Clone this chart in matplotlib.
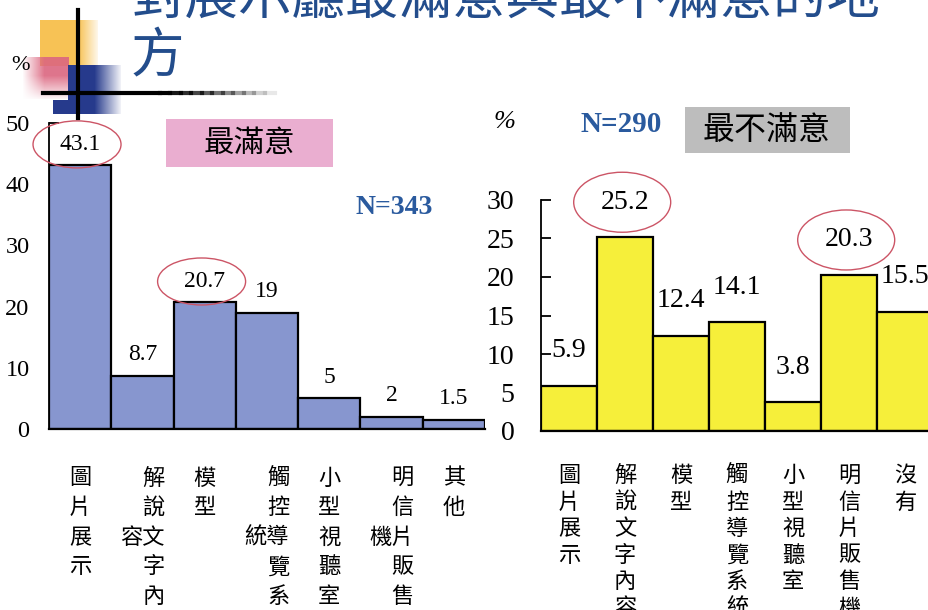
import numpy as np
import matplotlib.pyplot as plt
from matplotlib.patches import Ellipse, Rectangle
from matplotlib.lines import Line2D

plt.rcParams['font.family'] = ['Noto Sans CJK TC', 'DejaVu Sans']

W, H = 929, 610

# data: most satisfied (left) / least satisfied (right)
cats_best = ['圖片展示', '解說文字內容', '模型', '觸控導覽系統', '小型視聽室', '明信片販售機', '其他']
vals_best = [43.1, 8.7, 20.7, 19, 5, 2, 1.5]
circled_best = [0, 2]

cats_worst = ['圖片展示', '解說文字內容', '模型', '觸控導覽系統', '小型視聽室', '明信片販售機', '沒有']
vals_worst = [5.9, 25.2, 12.4, 14.1, 3.8, 20.3, 15.5]
circled_worst = [1, 5]

n_best = 343
n_worst = 290

title_line1 = '對展示廳最滿意與最不滿意的地'
title_line2 = '方'


def fx(px):
    return px / W


def fy(py):
    return 1 - py / H


def vertical(label, wrap):
    chars = list(label)
    if wrap and len(chars) > 5:
        # 6th char goes to the left of the 3rd row
        lines = chars[:5]
        lines[2] = chars[5] + lines[2]
        return '\n'.join(lines)
    return '\n'.join(chars)


def panel(ax, cats, vals, circled, color, ymax, ystep, tick_fs, val_fs,
          val_off, lab_pad, lab_ls, wrap, ell_w, ell_h, ax_px):
    x = np.arange(len(vals))
    ax.bar(x, vals, width=1.0, color=color, edgecolor='black', linewidth=1.6, zorder=2)
    ax.set_xlim(-0.5, len(vals) - 0.5)
    ax.set_ylim(0, ymax)
    ax.set_yticks(np.arange(0, ymax + 1, ystep))
    ax.tick_params(axis='y', direction='in', length=7, width=1.3, pad=lab_pad[0],
                   labelsize=tick_fs, labelfontfamily='Liberation Serif')
    ax.tick_params(axis='x', length=0, pad=lab_pad[1])
    ax.set_xticks(x)
    ax.set_xticklabels([vertical(c, wrap) for c in cats], fontsize=16,
                       linespacing=lab_ls, multialignment='right')
    for s in ['top', 'right']:
        ax.spines[s].set_visible(False)
    ax.spines['left'].set_linewidth(1.3)
    ax.spines['bottom'].set_linewidth(1.6)
    ax.patch.set_alpha(0)

    # px per data unit
    ux = ax_px[0] / len(vals)
    uy = ax_px[1] / ymax
    for i, v in enumerate(vals):
        ax.annotate(f'{v:g}', (i, v), xytext=(0, val_off), textcoords='offset points',
                    ha='center', va='center', fontsize=val_fs,
                    family='Liberation Serif', zorder=3)
        if i in circled:
            ax.add_patch(Ellipse((i - 0.05, v + val_off / 0.72 / uy), ell_w / ux, ell_h / uy,
                                 fill=False, edgecolor='#cc5566', linewidth=1.0,
                                 clip_on=False, zorder=4))


fig = plt.figure(figsize=(W / 100, H / 100), dpi=100)
fig.patch.set_facecolor('white')

# decoration at top-left
deco = fig.add_axes([0, fy(120), fx(130), 120 / H])
deco.axis('off')
yy, xx = np.mgrid[0:120, 0:130]
img = np.ones((120, 130, 3))


def paint(mask, rgb, alpha):
    a = np.where(mask, alpha, 0)[..., None]
    img[:] = img * (1 - a) + np.array(rgb) * a


paint((xx >= 40) & (xx <= 97) & (yy >= 20) & (yy <= 65),
      (0.97, 0.75, 0.30), np.clip((100 - xx) / 22, 0, 1) * 0.95)
paint((xx >= 22) & (xx <= 68) & (yy >= 57) & (yy <= 98),
      (0.86, 0.40, 0.50), np.clip((xx - 22) / 22, 0, 1) * np.clip((100 - yy) / 25, 0, 1) * 0.9)
paint(((xx >= 68) & (xx <= 120) & (yy >= 65) & (yy <= 113)) |
      ((xx >= 53) & (xx <= 68) & (yy >= 100) & (yy <= 113)),
      (0.15, 0.23, 0.55), np.clip((122 - xx) / 28, 0, 1))
deco.imshow(img, extent=(0, 130, 120, 0), aspect='auto')
deco.set_xlim(0, 130)
deco.set_ylim(120, 0)

fig.add_artist(Line2D([fx(78), fx(78)], [fy(10), fy(118)], color='black', linewidth=3))
segs = np.linspace(160, 275, 12)
fig.add_artist(Line2D([fx(43), fx(160)], [fy(93), fy(93)], color='black', linewidth=3))
for k in range(len(segs) - 1):
    fig.add_artist(Line2D([fx(segs[k]), fx(segs[k + 1])], [fy(93), fy(93)], color='black',
                          linewidth=3, alpha=1 - k / (len(segs) - 1)))
fig.text(fx(20), fy(66), '%', fontsize=16, family='Liberation Serif', ha='center', va='center')

# title (first line is cut by the top edge)
fig.text(fx(131), fy(-2), title_line1, fontsize=38.5, color='#234d8c', ha='left', va='center')
fig.text(fx(131), fy(57), title_line2, fontsize=38.5, color='#234d8c', ha='left', va='center')

# left panel
ax1 = fig.add_axes([fx(49), fy(429), 436 / W, 306 / H])
panel(ax1, cats_best, vals_best, circled_best, '#8796cf', 50, 10, 17.5, 17, 15,
      (14, 27), 1.37, True, 88, 47, (436, 306))

# right panel
ax2 = fig.add_axes([fx(541), fy(431), 392 / W, 231 / H])
panel(ax2, cats_worst, vals_worst, circled_worst, '#f6ef3a', 30, 5, 20, 20, 25,
      (19, 24), 1.19, False, 97, 60, (392, 231))

# header boxes and N
fig.add_artist(Rectangle((fx(166), fy(167)), 167 / W, 48 / H, transform=fig.transFigure,
                         facecolor='#eaaed0', edgecolor='none'))
fig.text(fx(249), fy(143), '最滿意', fontsize=22, ha='center', va='center')
fig.text(fx(394), fy(207), f'N={n_best}', fontsize=20, fontweight='bold', color='#2a5a9e',
         family='Liberation Serif', ha='center', va='center')

fig.add_artist(Rectangle((fx(685), fy(153)), 165 / W, 46 / H, transform=fig.transFigure,
                         facecolor='#bdbdbd', edgecolor='none'))
fig.text(fx(767), fy(130), '最不滿意', fontsize=23, ha='center', va='center')
fig.text(fx(621), fy(124), f'N={n_worst}', fontsize=21, fontweight='bold', color='#2a5a9e',
         family='Liberation Serif', ha='center', va='center')
fig.text(fx(505), fy(122), '%', fontsize=19, family='Liberation Serif', style='italic',
         ha='center', va='center')

fig.savefig('out.png', dpi=100)
